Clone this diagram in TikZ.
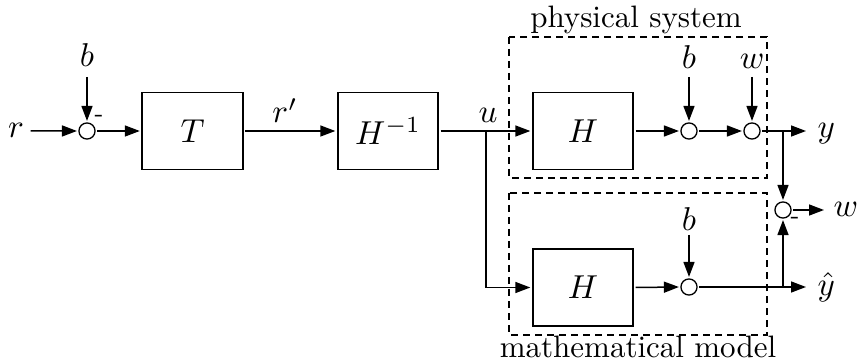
\documentclass[tikz,border=0pt]{standalone}
\usetikzlibrary{arrows.meta}
\begin{document}
\begin{tikzpicture}[x=1pt,y=-1pt,
  every node/.style={inner sep=0pt, scale=3.1},
  mlabel/.style={scale=3.3/3.1},
  blockbox/.style={draw, line width=1.6pt, minimum width=32.4pt, minimum height=24.8pt},
  sumnode/.style={draw, circle, line width=1.3pt, minimum size=5.2pt, fill=white},
  sig/.style={line width=1.5pt, -{Triangle[length=15pt,width=11pt]}},
  frame/.style={draw, line width=1.2pt, dash pattern=on 7pt off 5pt},
  minus/.style={font=\fontsize{8}{9}\selectfont}
]
\useasboundingbox (0,0) rectangle (859,363);
% frames
\draw[frame] (509,37) rectangle (767,178);
\draw[frame] (509,193) rectangle (767,335);
\node[anchor=base] (phys) at (636,28) {physical system};
\node[anchor=base] (math) at (638,357) {mathematical model};
% input
\node[anchor=base, mlabel] (r) at (16,138) {$r$};
\node[sumnode] (s1) at (87,131) {};
\node[anchor=base, mlabel] (b1) at (87,67) {$b$};
\coordinate (b1s) at (87,77);
\node[minus] (m1) at (99,118) {-};
\node[blockbox] (T) at (192.5,131) {\scalebox{1.07}{$T$}};
\node[blockbox] (Hi) at (388,131) {\scalebox{1.07}{$H^{-1}$}};
\node[anchor=base, mlabel] (rp) at (285,123) {$r'$};
\node[anchor=base, mlabel] (u) at (488,123) {$u$};
\coordinate (j) at (486,131);
% physical system
\node[blockbox] (H1) at (583,131) {\scalebox{1.07}{$H$}};
\node[sumnode] (s2) at (689,131) {};
\node[sumnode] (s3) at (752,131) {};
\node[anchor=base, mlabel] (b2) at (689,69) {$b$};
\node[anchor=base, mlabel] (w1) at (752,69) {$w$};
\coordinate (b2s) at (689,77);
\coordinate (w1s) at (752,77);
\coordinate (br1) at (783,131);
\coordinate (yend) at (806,131);
\node[anchor=base west, mlabel] (y) at (817,138) {$y$};
% model
\node[blockbox] (H2) at (583,287.5) {\scalebox{1.07}{$H$}};
\node[sumnode] (s5) at (689,287) {};
\node[anchor=base, mlabel] (b3) at (689,231) {$b$};
\coordinate (b3s) at (689,235);
\coordinate (br2) at (783,287);
\coordinate (yhend) at (806,287);
\node[anchor=base west, mlabel] (yh) at (817,295) {$\hat{y}$};
% comparison
\node[sumnode] (s4) at (783,210) {};
\node[minus] (m4) at (795,220) {-};
\coordinate (wend) at (824,210);
\node[anchor=base west, mlabel] (w2) at (833,217) {$w$};
% connectors
\draw[sig] (r.east) ++(6,0) -- (s1.west);
\draw[sig] (b1s) -- (s1.north);
\draw[sig] (s1.east) -- (T.west);
\draw[sig] (T.east) -- (Hi.west);
\draw[sig] (Hi.east) -- (H1.west);
\draw[sig] (j) |- (H2.west);
\draw[sig] (H1.east) -- (s2.west);
\draw[sig] (s2.east) -- (s3.west);
\draw[sig] (s3.east) -- (yend);
\draw[sig] (b2s) -- (s2.north);
\draw[sig] (w1s) -- (s3.north);
\draw[sig] (br1) -- (s4.north);
\draw[sig] (H2.east) -- (s5.west);
\draw[sig] (s5.east) -- (yhend);
\draw[sig] (b3s) -- (s5.north);
\draw[sig] (br2) -- (s4.south);
\draw[sig] (s4.east) -- (wend);
\end{tikzpicture}
\end{document}
